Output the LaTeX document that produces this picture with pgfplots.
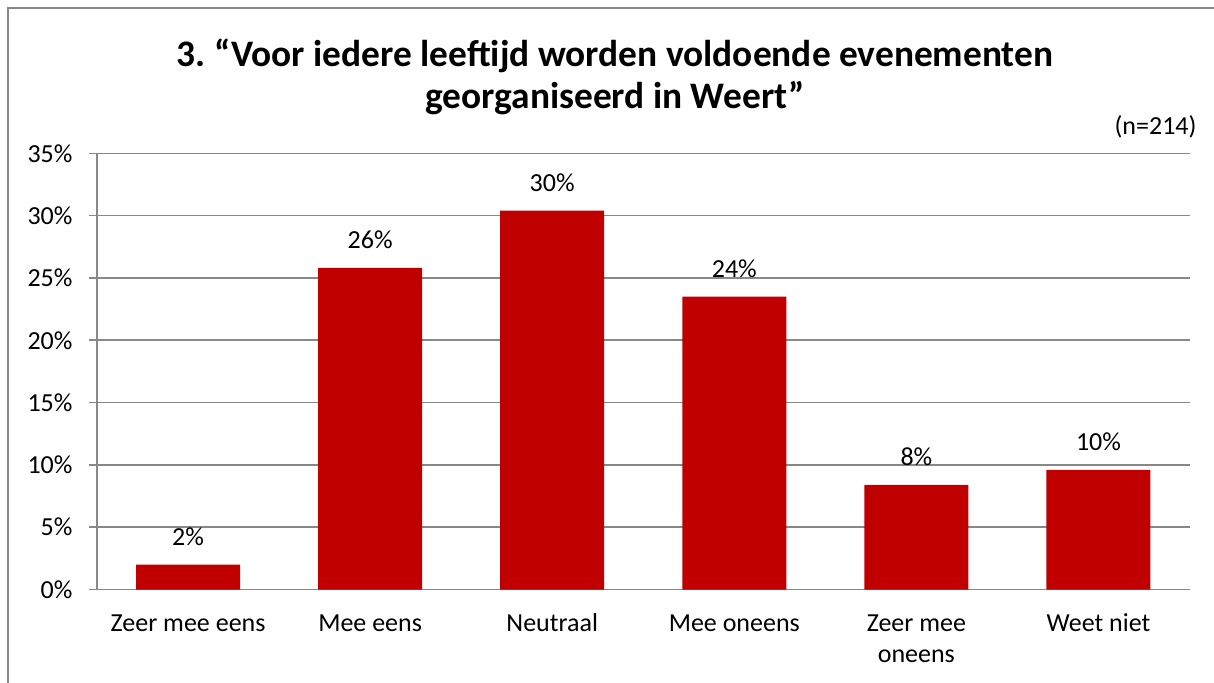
\documentclass[border=0pt]{standalone}
\usepackage{pgfplots}
\pgfplotsset{compat=1.18}
\usepackage{fontspec}
\setmainfont{Carlito}
\definecolor{barred}{HTML}{C00000}
\definecolor{gridgray}{HTML}{888888}
\begin{document}
\begin{tikzpicture}[x=1pt,y=1pt]
\useasboundingbox (-97,-92.5) rectangle (1117,589.5);
\draw[gridgray, line width=2pt] (-88.5,-100) -- (-88.5,581) -- (1130,581);
\node[font=\fontsize{37.4}{44}\selectfont\bfseries, anchor=base] at (518,522.5) {3.\ “Voor iedere leeftijd worden voldoende evenementen};
\node[font=\fontsize{37.4}{44}\selectfont\bfseries, anchor=base] at (518,480.5) {georganiseerd in Weert”};
\node[font=\fontsize{26}{31}\selectfont, anchor=base east, inner sep=0pt] at (1099.7,454.5) {(n=214)};
\begin{axis}[
  at={(0,0)}, anchor=south west,
  scale only axis, width=1092.5pt, height=436.2pt,
  xmin=-0.5, xmax=5.5, ymin=0, ymax=35,
  /pgf/number format/assume math mode=true,
  axis x line=bottom, axis y line=left,
  axis line style={gridgray, line width=1.5pt, -},
  ymajorgrids, grid style={gridgray, line width=1.5pt},
  ytick={0,5,...,35},
  yticklabel={\pgfmathprintnumber{\tick}\%},
  ytick style={gridgray, line width=1.5pt},
  tick align=outside, major tick length=8pt,
  xtick={0,...,5},
  xticklabels={\strut Zeer mee eens, \strut Mee eens, \strut Neutraal, \strut Mee oneens, {\strut Zeer mee\\oneens}, \strut Weet niet},
  major x tick style={draw=none},
  extra x ticks={-0.5,0.5,1.5,2.5,3.5,4.5,5.5},
  extra x tick labels={},
  extra x tick style={grid=none, major tick length=8pt, tick style={gridgray, line width=1.5pt}},
  xticklabel style={align=center, font=\fontsize{26}{31.7}\selectfont, anchor=north, yshift=-8pt},
  yticklabel style={font=\fontsize{26}{31}\selectfont, xshift=-13pt},
  ybar, bar width=0.571,
  nodes near coords={\pgfmathprintnumber[fixed,precision=0]{\pgfplotspointmeta}\%},
  nodes near coords style={font=\fontsize{26}{31}\selectfont, anchor=base, inner sep=0pt, yshift=19pt, text=black},
]
\addplot[fill=barred, draw=none] coordinates {(0,2.0) (1,25.8) (2,30.4) (3,23.5) (4,8.4) (5,9.6)};
\end{axis}
\end{tikzpicture}
\end{document}
